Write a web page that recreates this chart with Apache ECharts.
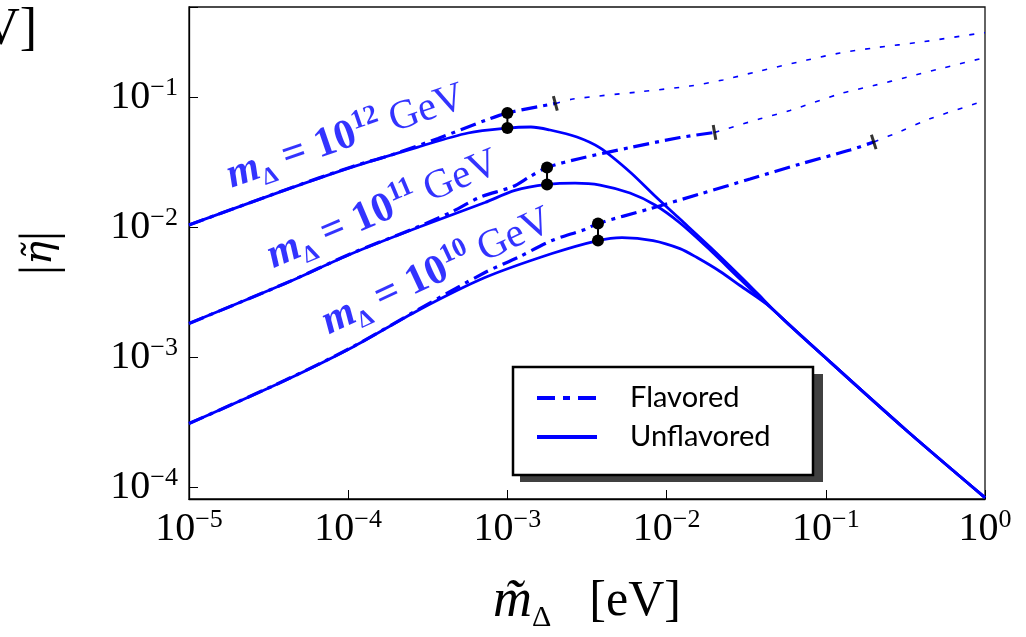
<!DOCTYPE html>
<html><head><meta charset="utf-8">
<script src="https://cdn.jsdelivr.net/npm/echarts@6/dist/echarts.min.js"></script>
<style>html,body{margin:0;padding:0;background:#fff}#c{width:1026px;height:637px}</style>
</head><body><div id="c"></div>
<script>
// ---- tick labels ----
const xTicks = [1e-5, 1e-4, 1e-3, 1e-2, 1e-1, 1];
const xTickExp = ['\u22125', '\u22124', '\u22123', '\u22122', '\u22121', '0'];
const yTicks = [1e-4, 1e-3, 1e-2, 1e-1];
const yTickExp = ['\u22124', '\u22123', '\u22122', '\u22121'];

// ---- Unflavored (solid) ----
const mU12 = [1e-5, 4.01e-5, 1.057e-4, 2.742e-4, 5.662e-4, 1e-3, 1.406e-3, 1.854e-3, 2.735e-3, 3.819e-3, 5.888e-3, 8.453e-3, 1.213e-2, 1.875e-2, 2.891e-2, 3.698e-2, 5.012e-2, 0.1, 0.3162, 1];
const etaU12 = [1.047e-2, 1.941e-2, 2.917e-2, 4.159e-2, 5.333e-2, 5.821e-2, 5.929e-2, 5.623e-2, 4.966e-2, 4.093e-2, 2.673e-2, 1.746e-2, 1.161e-2, 7.079e-3, 4.236e-3, 3.133e-3, 2.153e-3, 9.908e-4, 2.799e-4, 8.375e-5];
const mU11 = [1e-5, 4.01e-5, 1.057e-4, 2.742e-4, 7.228e-4, 1.117e-3, 1.774e-3, 2.661e-3, 3.819e-3, 5.888e-3, 8.453e-3, 1.213e-2, 1.875e-2, 2.891e-2, 3.698e-2, 5.012e-2, 0.1, 0.3162, 1];
const etaU11 = [1.828e-3, 3.707e-3, 6.31e-3, 1e-2, 1.556e-2, 1.928e-2, 2.143e-2, 2.198e-2, 2.123e-2, 1.841e-2, 1.489e-2, 1.084e-2, 6.714e-3, 4.018e-3, 3.027e-3, 2.153e-3, 9.908e-4, 2.799e-4, 8.375e-5];
const mU10 = [1e-5, 4.01e-5, 1.057e-4, 2.742e-4, 7.228e-4, 1.905e-3, 3.707e-3, 5.248e-3, 8.222e-3, 1.213e-2, 1.552e-2, 2.168e-2, 2.891e-2, 4.276e-2, 5.957e-2, 0.1, 0.3162, 1];
const etaU10 = [3.105e-4, 6.653e-4, 1.194e-3, 2.301e-3, 4.121e-3, 6.31e-3, 7.943e-3, 8.375e-3, 7.943e-3, 6.887e-3, 5.875e-3, 4.592e-3, 3.581e-3, 2.559e-3, 1.758e-3, 9.908e-4, 2.799e-4, 8.375e-5];

// ---- Flavored (dash-dot, then thin dashed) ----
const mF12 = [1e-5, 4.01e-5, 1.057e-4, 1.884e-4, 3.664e-4, 7.228e-4, 1e-3, 2e-3];
const etaF12 = [1.047e-2, 1.945e-2, 2.938e-2, 3.631e-2, 4.842e-2, 6.653e-2, 7.603e-2, 8.995e-2];
const mF12t = [2e-3, 2.582e-3, 6.808e-3, 1.403e-2, 2.259e-2, 3.698e-2, 7.621e-2, 0.1227, 0.2, 0.4083, 0.9311, 1];
const etaF12t = [8.995e-2, 9.727e-2, 0.1107, 0.1225, 0.1365, 0.1581, 0.1941, 0.2198, 0.2404, 0.2685, 0.3119, 0.3148];
const mF11 = [1e-5, 4.01e-5, 1.057e-4, 2.742e-4, 4.467e-4, 6.73e-4, 1.084e-3, 1.387e-3, 1.774e-3, 2.858e-3, 5.888e-3, 1.213e-2, 2e-2];
const etaF11 = [1.828e-3, 3.715e-3, 6.339e-3, 1.012e-2, 1.318e-2, 1.71e-2, 2.065e-2, 2.466e-2, 2.897e-2, 3.396e-2, 4.121e-2, 4.92e-2, 5.383e-2];
const mF11t = [2e-2, 3.864e-2, 5.957e-2, 0.1227, 0.2, 0.3236, 0.5212, 0.9311, 1];
const etaF11t = [5.383e-2, 6.855e-2, 7.943e-2, 0.1067, 0.1236, 0.1432, 0.1663, 0.1986, 0.2032];
const mF10 = [1e-5, 4.01e-5, 1.057e-4, 2.742e-4, 7.228e-4, 1.167e-3, 1.905e-3, 3.069e-3, 3.707e-3, 7.745e-3, 1.622e-2, 3.342e-2, 6.887e-2, 0.1419, 0.2];
const etaF10 = [3.105e-4, 6.683e-4, 1.202e-3, 2.333e-3, 4.508e-3, 5.888e-3, 7.943e-3, 9.66e-3, 1.074e-2, 1.387e-2, 1.811e-2, 2.36e-2, 3.076e-2, 3.945e-2, 4.55e-2];
const mF10t = [0.2, 0.2924, 0.4508, 0.8913, 1];
const etaF10t = [4.55e-2, 5.47e-2, 6.855e-2, 9.036e-2, 9.397e-2];

// ---- black markers ----
const dotM = [1e-3, 1.774e-3, 3.707e-3];
const dotEtaF = [7.603e-2, 2.897e-2, 1.074e-2];
const dotEtaU = [5.821e-2, 2.143e-2, 7.943e-3];
const tickM = [2e-3, 2e-2, 0.2];
const tickEta = [8.995e-2, 5.383e-2, 4.55e-2];

// ---- curve annotations ----
const labelM = [9.68e-5, 1.656e-4, 3.614e-4];
const labelEta = [4.97e-2, 1.365e-2, 4.55e-3];
const labelExp = ['12', '11', '10'];
const labelRot = [19, 23, 25];
const tickRot = [15, 10, 18];

const zip = (a, b) => a.map((v, i) => [v, b[i]]);
const BLUE = '#0000ff';
const SERIF = "'Liberation Serif', 'DejaVu Serif', serif";
const DASHDOT = [16, 6, 4, 6];

const series = [];
[[mU12, etaU12], [mU11, etaU11], [mU10, etaU10]].forEach(([m, e]) => {
  series.push({ type: 'line', name: 'Unflavored', data: zip(m, e), symbol: 'none', smooth: 0.3,
    lineStyle: { color: BLUE, width: 2.8 }, itemStyle: { color: BLUE }, z: 3 });
});
[[mF12, etaF12, mF12t, etaF12t], [mF11, etaF11, mF11t, etaF11t], [mF10, etaF10, mF10t, etaF10t]].forEach(([m, e, mt, et]) => {
  series.push({ type: 'line', name: 'Flavored', data: zip(m, e), symbol: 'none', smooth: 0.3,
    lineStyle: { color: BLUE, width: 3.2, type: DASHDOT }, itemStyle: { color: BLUE }, z: 3 });
  series.push({ type: 'line', name: 'Flavored (continued)', data: zip(mt, et), symbol: 'none', smooth: 0.3,
    lineStyle: { color: BLUE, width: 1.6, type: [5, 10] }, itemStyle: { color: BLUE }, z: 3 });
});
dotM.forEach((m, i) => {
  series.push({ type: 'line', name: 'link' + i, data: [[m, dotEtaF[i]], [m, dotEtaU[i]]], symbol: 'circle', symbolSize: 12,
    showSymbol: true, lineStyle: { color: '#000', width: 2 }, itemStyle: { color: '#000' }, z: 5 });
});
tickM.forEach((m, i) => {
  series.push({ type: 'scatter', name: 'tick' + i, data: [[m, tickEta[i]]], symbol: 'rect', symbolSize: [3, 15],
    symbolRotate: tickRot[i], itemStyle: { color: '#000' }, z: 5 });
});
labelM.forEach((m, i) => {
  series.push({ type: 'scatter', name: 'lab' + i, data: [[m, labelEta[i]]], symbolSize: 1,
    itemStyle: { color: 'transparent' }, z: 6,
    label: { show: true, position: 'inside', rotate: labelRot[i], color: BLUE,
      formatter: '{m|m}{d|\u0394}{e| = }{n|10}{s|' + labelExp[i] + '}{g| GeV}',
      rich: {
        m: { fontFamily: SERIF, fontSize: 42, fontWeight: 'bold', fontStyle: 'italic', color: BLUE, lineHeight: 50 },
        d: { fontFamily: SERIF, fontSize: 24, fontWeight: 'bold', color: BLUE, lineHeight: 24, verticalAlign: 'bottom' },
        e: { fontFamily: SERIF, fontSize: 42, fontWeight: 'bold', color: BLUE, lineHeight: 50 },
        n: { fontFamily: SERIF, fontSize: 42, fontWeight: 'bold', color: BLUE, lineHeight: 50 },
        s: { fontFamily: SERIF, fontSize: 27, fontWeight: 'bold', color: BLUE, lineHeight: 27, verticalAlign: 'top' },
        g: { fontFamily: SERIF, fontSize: 41, color: BLUE, lineHeight: 50 }
      } } });
});

const fmt = (ticks, exps) => v => {
  for (let i = 0; i < ticks.length; i++) {
    if (Math.abs(Math.log10(v) - Math.log10(ticks[i])) < 1e-6) return '{b|10}{s|' + exps[i] + '}';
  }
  return '';
};
const tickRich = {
  b: { fontFamily: SERIF, fontSize: 40, lineHeight: 44, color: '#000' },
  s: { fontFamily: SERIF, fontSize: 26, lineHeight: 26, color: '#000', verticalAlign: 'top' }
};

const option = {
  animation: false,
  backgroundColor: '#fff',
  grid: { left: 189, right: 41, top: 7, bottom: 138, show: true, borderColor: '#111', borderWidth: 1.3,
    containLabel: false, outerBoundsMode: 'none' },
  legend: {
    left: 513, top: 367, orient: 'vertical', z: 8,
    data: [
      { name: 'Flavored', itemStyle: { opacity: 0, color: 'transparent', borderWidth: 0 }, lineStyle: { color: BLUE, width: 4, type: [18, 8, 7, 8], opacity: 1 } },
      { name: 'Unflavored', itemStyle: { opacity: 0, color: 'transparent', borderWidth: 0 }, lineStyle: { color: BLUE, width: 4, opacity: 1 } }
    ],
    itemWidth: 60, itemHeight: 14, itemGap: 9,
    padding: [16, 20, 23, 22],
    backgroundColor: '#fff', borderColor: '#000', borderWidth: 2.5,
    selectedMode: false,
    textStyle: { fontFamily: 'Lato, sans-serif', fontSize: 29, color: '#000', padding: [0, 0, 0, 28], lineHeight: 30, width: 163 }
  },
  xAxis: {
    type: 'log', logBase: 10, min: 1e-5, max: 1,
    axisLine: { show: true, lineStyle: { color: '#000', width: 1.3 } },
    axisTick: { show: true, inside: true, length: 9, lineStyle: { color: '#000', width: 1 } },
    minorTick: { show: false }, splitLine: { show: false },
    axisLabel: { formatter: fmt(xTicks, xTickExp), rich: tickRich, margin: 8 },
    name: '{m|m\u0303}{d|\u0394}{u|[eV]}', nameLocation: 'middle', nameGap: 72,
    nameTextStyle: { rich: {
      m: { fontFamily: SERIF, fontSize: 54, fontStyle: 'italic', lineHeight: 62, color: '#000' },
      d: { fontFamily: SERIF, fontSize: 30, lineHeight: 30, verticalAlign: 'bottom', color: '#000' },
      u: { fontFamily: SERIF, fontSize: 50, lineHeight: 62, color: '#000', padding: [0, 0, 0, 38] }
    } }
  },
  yAxis: {
    type: 'log', logBase: 10, min: 8.166e-5, max: 0.4966,
    axisLine: { show: true, lineStyle: { color: '#000', width: 1.3 } },
    axisTick: { show: true, inside: true, length: 9, lineStyle: { color: '#000', width: 1 } },
    minorTick: { show: false }, splitLine: { show: false },
    axisLabel: { formatter: fmt(yTicks, yTickExp), rich: tickRich, margin: 11 },
    name: '{b||}{e|\u03B7\u0303}{b||}', nameLocation: 'middle', nameGap: 120, nameRotate: 90,
    nameTextStyle: { rich: {
      b: { fontFamily: SERIF, fontSize: 50, lineHeight: 56, color: '#000' },
      e: { fontFamily: "'DejaVu Serif', serif", fontSize: 40, fontStyle: 'italic', lineHeight: 56, color: '#000' }
    } }
  },
  graphic: [
    { type: 'text', x: 37, y: 30, style: { text: 'V]', fontFamily: SERIF, fontSize: 52, fill: '#000', align: 'right', verticalAlign: 'middle' } },
    { type: 'rect', z: 2, shape: { x: 520, y: 374, width: 303, height: 108 }, style: { fill: '#404040' }, silent: true }
  ],
  series: series
};
const chart = echarts.init(document.getElementById('c'));
chart.setOption(option);
</script>
</body></html>
